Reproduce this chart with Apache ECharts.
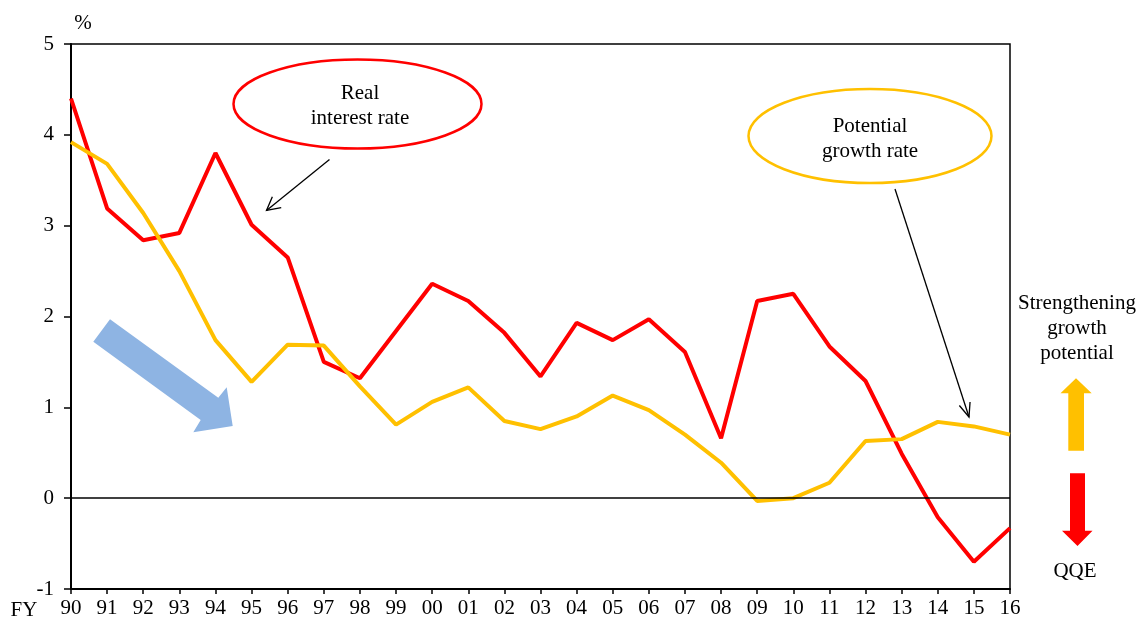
<!DOCTYPE html>
<html>
<head>
<meta charset="utf-8">
<script src="https://cdn.jsdelivr.net/npm/echarts@6/dist/echarts.min.js"></script>
<style>html,body{margin:0;padding:0;background:#fff}#c{width:1140px;height:619px}</style>
</head>
<body>
<div id="c"></div>
<script>
const years = ['90','91','92','93','94','95','96','97','98','99','00','01','02','03','04','05','06','07','08','09','10','11','12','13','14','15','16'];
const realInterestRate = [4.40,3.19,2.84,2.92,3.80,3.01,2.65,1.50,1.32,1.84,2.36,2.17,1.82,1.34,1.93,1.74,1.97,1.61,0.66,2.17,2.25,1.67,1.29,0.49,-0.21,-0.70,-0.33];
const potentialGrowthRate = [3.92,3.68,3.14,2.50,1.74,1.28,1.69,1.68,1.23,0.81,1.06,1.22,0.85,0.76,0.90,1.13,0.97,0.70,0.39,-0.03,0.00,0.17,0.63,0.65,0.84,0.79,0.70];
const yTicks = {min:-1, max:5, interval:1};

const FONT = '"Liberation Serif","Times New Roman",serif';
const RED = '#FF0000', YEL = '#FFC000', BLUE = '#8EB4E3';

function openArrow(x1,y1,x2,y2,len,ang){
  const dx=x2-x1, dy=y2-y1, L=Math.hypot(dx,dy), ux=dx/L, uy=dy/L;
  const a=ang*Math.PI/180;
  const p1=[x2-len*(ux*Math.cos(a)-uy*Math.sin(a)), y2-len*(uy*Math.cos(a)+ux*Math.sin(a))];
  const p2=[x2-len*(ux*Math.cos(a)+uy*Math.sin(a)), y2-len*(uy*Math.cos(a)-ux*Math.sin(a))];
  return [
    {type:'line', shape:{x1,y1,x2,y2}, style:{stroke:'#000', lineWidth:1.3}, z:100},
    {type:'polyline', shape:{points:[p1,[x2,y2],p2]}, style:{stroke:'#000', lineWidth:1.3, fill:null}, z:100}
  ];
}
function txt(x,y,t,align){
  return {type:'text', x, y, style:{text:t, font:'21px '+FONT, fill:'#000', align:align||'center', verticalAlign:'middle', lineHeight:25}, z:100};
}

const chart = echarts.init(document.getElementById('c'), null, {renderer:'canvas'});
chart.setOption({
  animation:false,
  backgroundColor:'#fff',
  grid:{left:71, right:130, top:44, bottom:30, show:true, borderColor:'#000', borderWidth:1.5, backgroundColor:'transparent'},
  xAxis:{
    type:'category', data:years, boundaryGap:false,
    axisLine:{onZero:false, lineStyle:{color:'#000', width:2}},
    axisTick:{show:true, length:5, lineStyle:{color:'#000', width:1.5}},
    axisLabel:{color:'#000', fontFamily:FONT, fontSize:21, margin:9, interval:0},
    splitLine:{show:false}
  },
  yAxis:{
    type:'value', min:yTicks.min, max:yTicks.max, interval:yTicks.interval,
    axisLine:{show:true, onZero:false, lineStyle:{color:'#000', width:2}},
    axisTick:{show:true, length:7, lineStyle:{color:'#000', width:1.5}},
    axisLabel:{color:'#000', fontFamily:FONT, fontSize:21, margin:17},
    splitLine:{show:false}
  },
  series:[
    {name:'Real interest rate', type:'line', data:realInterestRate, symbol:'none',
     lineStyle:{color:RED, width:4}, itemStyle:{color:RED}, z:3,
     markLine:{silent:true, symbol:['none','none'], label:{show:false},
       lineStyle:{color:'#000', width:1.5, type:'solid'}, data:[{yAxis:0}]}},
    {name:'Potential growth rate', type:'line', data:potentialGrowthRate, symbol:'none',
     lineStyle:{color:YEL, width:4}, itemStyle:{color:YEL}, z:4}
  ],
  graphic:[
    txt(83,23,'%'),
    txt(24,610,'FY'),
    {type:'ellipse', shape:{cx:357.5, cy:104, rx:124, ry:44.5}, style:{stroke:RED, lineWidth:2.5, fill:'#fff'}, z:99},
    txt(360,106,'Real\ninterest rate'),
    {type:'ellipse', shape:{cx:870, cy:136, rx:121.5, ry:47}, style:{stroke:YEL, lineWidth:2.5, fill:'#fff'}, z:99},
    txt(870,139,'Potential\ngrowth rate'),
    ...openArrow(329.5,159.5,266.5,210.5,15,28),
    ...openArrow(895,189,969,417,15,22),
    {type:'polygon', shape:{points:[[93.3,341.7],[110,319.3],[218.3,397.7],[226.7,387.3],[232.7,426],[193.3,432.3],[200.7,420]]},
     style:{fill:BLUE}, z:98},
    txt(1077,328,'Strengthening\ngrowth\npotential'),
    {type:'polygon', shape:{points:[[1076,378.3],[1091.7,393.3],[1084,393.3],[1084,450.7],[1068.3,450.7],[1068.3,393.3],[1060.5,393.3]]},
     style:{fill:YEL}, z:98},
    {type:'polygon', shape:{points:[[1070,473.3],[1085,473.3],[1085,530.7],[1092.5,530.7],[1077.5,546],[1062,530.7],[1070,530.7]]},
     style:{fill:RED}, z:98},
    txt(1075,571,'QQE')
  ]
});
</script>
</body>
</html>
